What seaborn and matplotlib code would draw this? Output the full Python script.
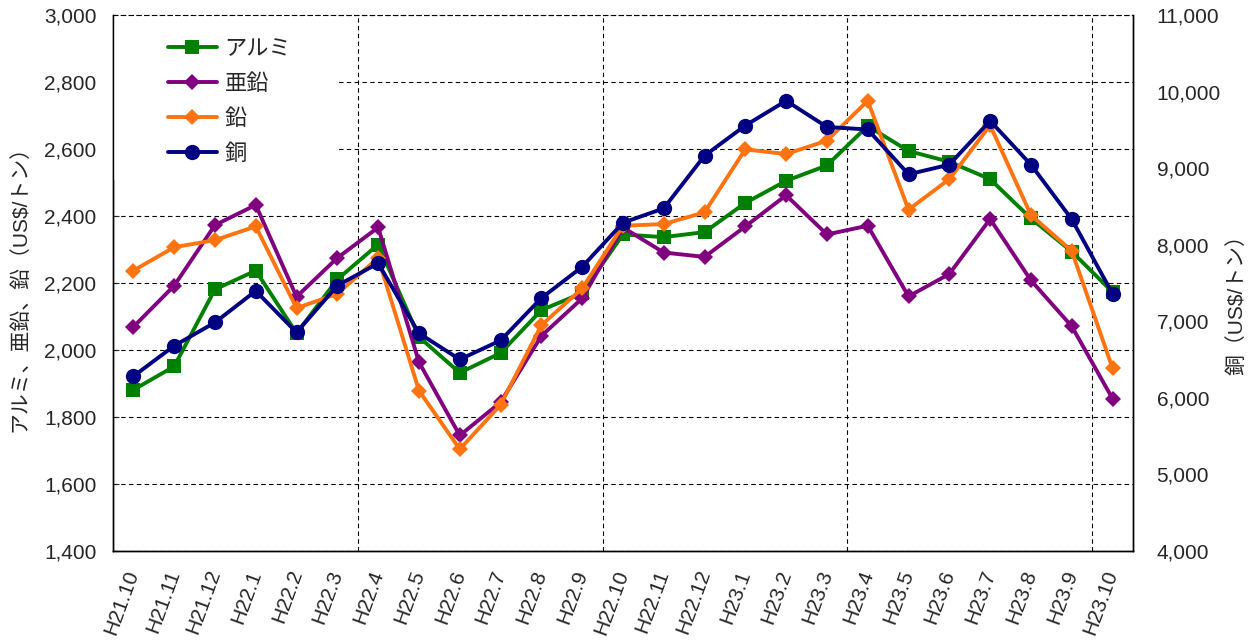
import pandas as pd
import matplotlib
matplotlib.use("Agg")
import matplotlib.pyplot as plt
from matplotlib.patches import Rectangle
from matplotlib.ticker import StrMethodFormatter
import seaborn as sns

# monthly prices
months = ["H21.10", "H21.11", "H21.12", "H22.1", "H22.2", "H22.3", "H22.4",
          "H22.5", "H22.6", "H22.7", "H22.8", "H22.9", "H22.10", "H22.11",
          "H22.12", "H23.1", "H23.2", "H23.3", "H23.4", "H23.5", "H23.6",
          "H23.7", "H23.8", "H23.9", "H23.10"]
aluminum = [1881, 1951, 2181, 2237, 2050, 2211, 2315, 2039, 1932, 1991, 2119, 2170,
            2345, 2337, 2352, 2439, 2505, 2551, 2669, 2594, 2562, 2510, 2393, 2294, 2173]
zinc = [2069, 2192, 2373, 2433, 2159, 2275, 2366, 1964, 1745, 1844, 2042, 2154,
        2366, 2291, 2278, 2369, 2462, 2345, 2371, 2160, 2227, 2391, 2208, 2071, 1855]
lead = [2237, 2307, 2328, 2369, 2125, 2168, 2275, 1879, 1704, 1836, 2074, 2184,
        2371, 2376, 2411, 2599, 2585, 2625, 2744, 2419, 2510, 2671, 2403, 2296, 1946]
copper = [6282, 6680, 6985, 7397, 6854, 7467, 7758, 6844, 6502, 6750, 7303, 7711,
          8287, 8475, 9163, 9557, 9880, 9538, 9505, 8920, 9046, 9618, 9046, 8334, 7360]

labels = ["アルミ", "亜鉛", "鉛", "銅"]

sns.set_style("white")
plt.rcParams["font.family"] = ["Liberation Sans", "Noto Sans CJK JP", "DejaVu Sans"]

df = pd.DataFrame({"idx": range(len(months)), "アルミ": aluminum, "亜鉛": zinc,
                   "鉛": lead, "銅": copper})

fig = plt.figure(figsize=(12.51, 6.42), dpi=100)
ax = fig.add_axes([0.0903, 0.1417, 0.8153, 0.8349])
ax2 = ax.twinx()

lw = 2.8
sns.lineplot(data=df, x="idx", y="アルミ", ax=ax, color="#008000", marker="s",
             markersize=10.5, markeredgewidth=0, linewidth=lw)
sns.lineplot(data=df, x="idx", y="亜鉛", ax=ax, color="#800080", marker="D",
             markersize=8.5, markeredgewidth=0, linewidth=lw)
sns.lineplot(data=df, x="idx", y="鉛", ax=ax, color="#FF7410", marker="D",
             markersize=8.5, markeredgewidth=0, linewidth=lw)
sns.lineplot(data=df, x="idx", y="銅", ax=ax2, color="#000080", marker="o",
             markersize=11, markeredgewidth=0, linewidth=lw)

ax.set_xlim(-0.5, len(months) - 0.5)
ax.set_ylim(1400, 3000)
ax2.set_ylim(4000, 11000)
ax.set_yticks(range(1400, 3001, 200))
ax2.set_yticks(range(4000, 11001, 1000))
ax.yaxis.set_major_formatter(StrMethodFormatter("{x:,.0f}"))
ax2.yaxis.set_major_formatter(StrMethodFormatter("{x:,.0f}"))

ax.set_xticks(range(len(months)))
ax.set_xticklabels(months, rotation=70, ha="right", va="center",
                   rotation_mode="anchor", fontsize=15)
ax.set_xticks([5.5, 11.5, 17.5, 23.5], minor=True)

dash = (0, (4, 3))
ax.grid(axis="y", which="major", linestyle=dash, color="black", linewidth=0.8)
ax.grid(axis="x", which="minor", linestyle=dash, color="black", linewidth=0.8)
ax.grid(axis="x", which="major", visible=False)

ax.tick_params(axis="x", which="both", length=0, pad=14)
ax.tick_params(axis="y", direction="in", length=4, pad=12, labelsize=15)
ax2.tick_params(axis="y", length=0, pad=17, labelsize=15)

ax.set_xlabel("")
ax2.set_xlabel("")
ax.set_ylabel("アルミ、亜鉛、鉛（US$/トン）", fontsize=15, labelpad=10)
ax2.set_ylabel("銅（US$/トン）", fontsize=15, labelpad=8)
ax2.yaxis.set_label_coords(1.092, 0.47)

for a in (ax, ax2):
    for s in a.spines.values():
        s.set_color("black")
        s.set_linewidth(1)
ax.spines["top"].set_visible(False)
ax2.spines["top"].set_linestyle(dash)
ax2.spines["top"].set_linewidth(0.8)

# white area behind the legend hides the gridlines there
ax2.add_patch(Rectangle((0, 0.692), 0.22, 0.308, transform=ax2.transAxes,
                        facecolor="white", edgecolor="none", zorder=1))

handles = [ax.lines[0], ax.lines[1], ax.lines[2], ax2.lines[0]]
ax2.legend(handles, labels, loc="upper left", bbox_to_anchor=(0.054, 0.955),
           borderaxespad=0, borderpad=0, frameon=False, fontsize=16,
           handlelength=2.2, handletextpad=0.35, labelspacing=0.62)

fig.savefig("out.png", dpi=100)
